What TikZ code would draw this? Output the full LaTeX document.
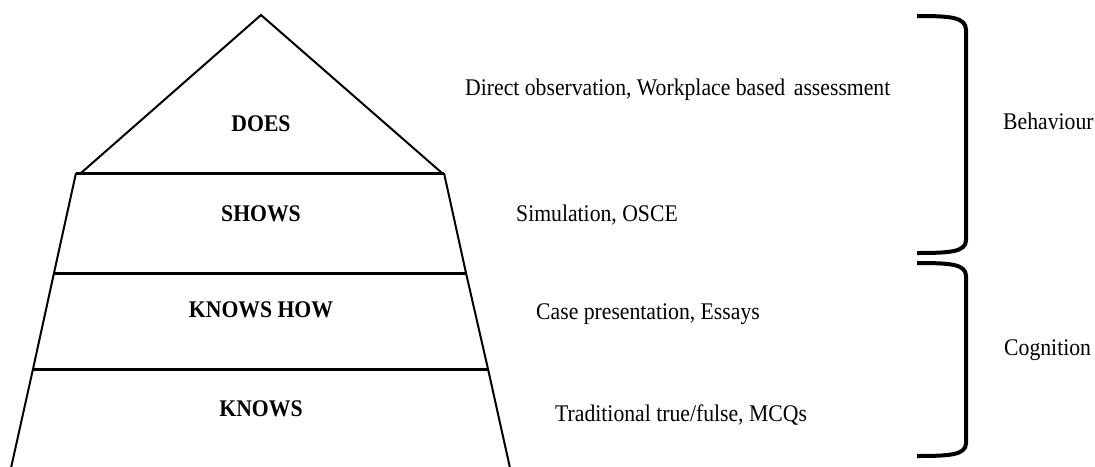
\documentclass[tikz,border=0pt]{standalone}
\usepackage{graphicx}
\usepackage{fontspec}
\setmainfont{Liberation Serif}
\newcommand{\tallt}[1]{\scalebox{1}[1.1]{#1}}
\begin{document}
\begin{tikzpicture}[x=1pt,y=-1pt,
  side/.style={line width=2pt,line join=miter},
  level/.style={line width=3pt},
  brace/.style={line width=4pt},
  lab/.style={font=\fontsize{21.7}{25}\selectfont\bfseries,inner sep=0pt},
  txt/.style={font=\fontsize{21.7}{25}\selectfont,inner sep=0pt,anchor=west}]
\useasboundingbox (0,0) rectangle (1095,466);
% pyramid corners
\coordinate (apex) at (261,15);
\coordinate (tl) at (81,173);
\coordinate (tr) at (442,173);
\coordinate (a1) at (76,173);
\coordinate (b1) at (444,173);
\coordinate (a2) at (54,273);
\coordinate (b2) at (466,273);
\coordinate (a3) at (33,369);
\coordinate (b3) at (488,369);
\coordinate (a4) at (11,468);
\coordinate (b4) at (510,468);
\draw[side] (tl) -- (apex) -- (tr);
\draw[side] (a1) -- (a2) -- (a3) -- (a4);
\draw[side] (b1) -- (b2) -- (b3) -- (b4);
\draw[level] (a1) -- (b1);
\draw[level] (a2) -- (b2);
\draw[level] (a3) -- (b3);
% labels
\node[lab] (does) at (261,124) {\tallt{DOES}};
\node[lab] (shows) at (261,214) {\tallt{SHOWS}};
\node[lab] (kh) at (261,310) {\tallt{KNOWS HOW}};
\node[lab] (knows) at (261,409) {\tallt{KNOWS}};
% methods
\node[txt] (m1) at (465,90) {\tallt{Direct observation, Workplace based\hspace{0.4em}assessment}};
\node[txt] (m2) at (516,215) {\tallt{Simulation, OSCE}};
\node[txt] (m3) at (536,314) {\tallt{Case presentation, Essays}};
\node[txt] (m4) at (555,415) {\tallt{Traditional true/fulse, MCQs}};
% braces
\coordinate (u1) at (917,16);
\coordinate (u2) at (917,253);
\coordinate (l1) at (917,263);
\coordinate (l2) at (917,456);
\draw[brace] (u1) .. controls (950,16) and (966,17) .. (966,30) -- (966,240) .. controls (966,252) and (950,253) .. (u2);
\draw[brace] (l1) .. controls (950,263) and (966,264) .. (966,276) -- (966,443) .. controls (966,455) and (950,456) .. (l2);
\node[txt] (beh) at (1003,121) {\tallt{Behaviour}};
\node[txt] (cog) at (1004,350) {\tallt{Cognition}};
\end{tikzpicture}
\end{document}
